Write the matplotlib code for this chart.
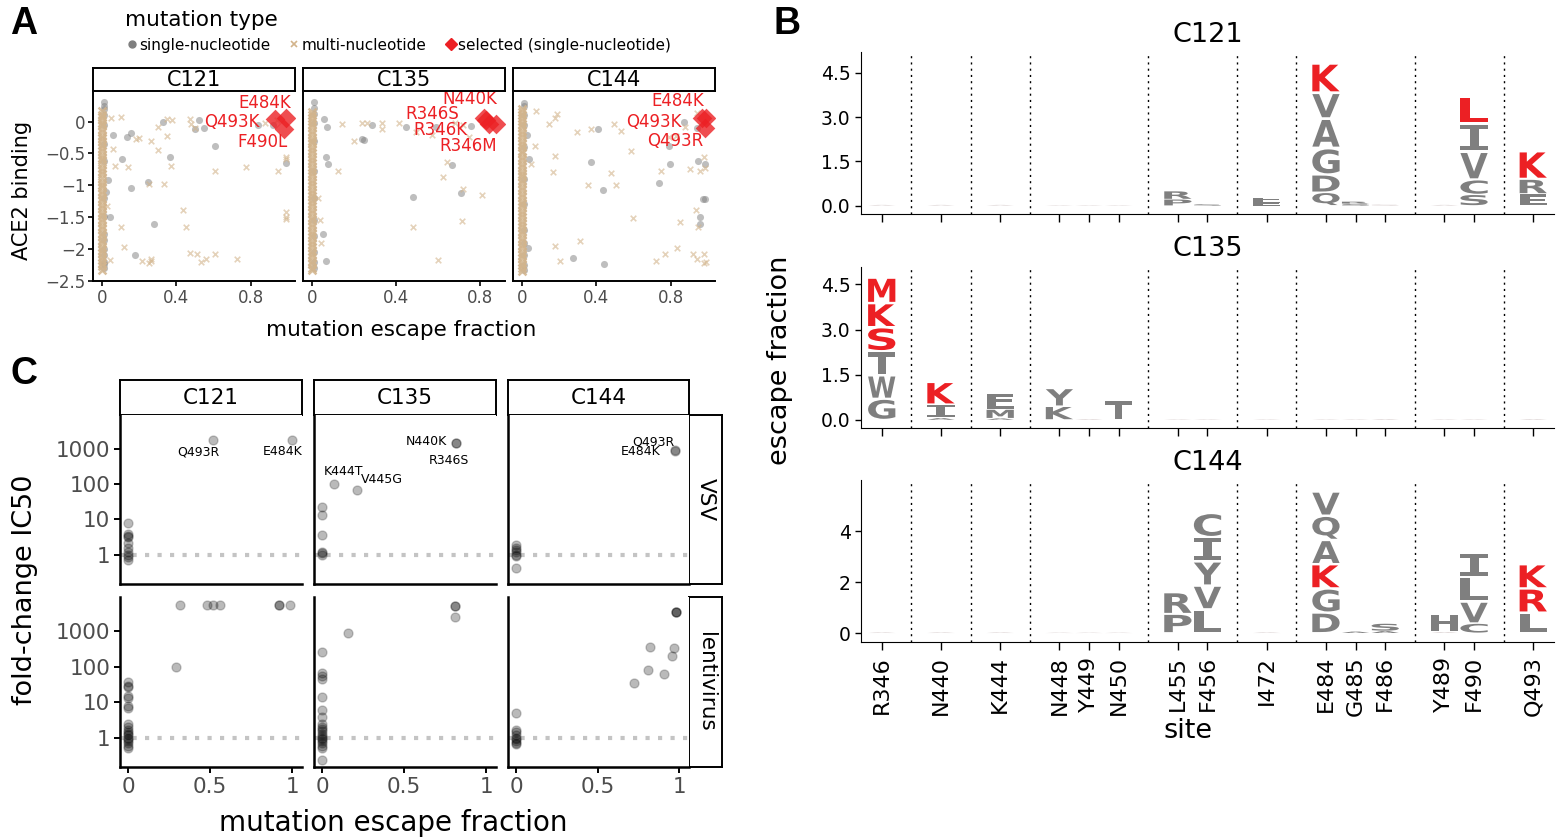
import numpy as np
import matplotlib
matplotlib.use('Agg')
import matplotlib.pyplot as plt
from matplotlib.textpath import TextPath
from matplotlib.patches import PathPatch
from matplotlib.font_manager import FontProperties
from matplotlib.transforms import Affine2D
from matplotlib.lines import Line2D

plt.rcParams['font.family'] = ['DejaVu Sans']

# ---------------------------
# Panel A data: ACE2 binding vs escape fraction
# ---------------------------
antibodies = ['C121', 'C135', 'C144']

# dense column of mutations with escape ~0
a121_col_mnt_y = [0.16, 0.11, 0.07, 0.03, -0.02, -0.06, -0.11, -0.17, -0.22, -0.26, -0.31, -0.37, -0.42,
                  -0.46, -0.52, -0.57, -0.61, -0.67, -0.73, -0.78, -0.82, -0.88, -0.94, -0.99, -1.03, -1.09,
                  -1.14, -1.2, -1.25, -1.31, -1.36, -1.41, -1.47, -1.52, -1.58, -1.63, -1.69, -1.74, -1.79,
                  -1.85, -1.9, -1.96, -2.01, -2.06, -2.12, -2.17, -2.22, -2.27, -2.32]
a121_col_snt_y = [0.3, 0.25, 0.2, 0.1, -0.05, -0.35, -0.62, -1.2, -1.48, -1.77, -1.86, -2.0, -2.1, -2.2, -2.24, -2.3]
a121_snt_x = [0.326, 0.522, 0.50, 0.549, 0.058, 0.136, 0.158, 0.61, 0.366, 0.105, 0.245, 0.158, 0.277, 0.178,
              0.042, 0.99, 0.84, 0.92, 0.023, 0.03]
a121_snt_y = [0.0, 0.03, -0.115, -0.10, -0.21, -0.24, -0.18, -0.38, -0.56, -0.59, -0.95, -1.04, -1.6, -2.09,
              -1.5, -0.65, -0.05, -0.06, -1.11, -0.92]
a121_mnt_x = [0.05, 0.1, 0.18, 0.2, 0.263, 0.3, 0.35, 0.375, 0.35, 0.475, 0.48, 0.058, 0.069, 0.137, 0.373,
              0.335, 0.3, 0.61, 0.775, 0.95, 0.99, 0.99, 0.435, 0.45, 0.1, 0.99, 0.99, 0.99, 0.118, 0.217,
              0.263, 0.263, 0.254, 0.475, 0.51, 0.535, 0.56, 0.61, 0.725, 0.04, 0.027, 0.94, 0.88, 0.5, 0.25]
a121_mnt_y = [0.05, 0.08, -0.27, -0.25, -0.3, -0.45, 0.04, 0.03, -0.23, 0.04, -0.03, -0.43, -0.7, -0.71, -0.7,
              -0.98, -0.08, -0.77, -0.71, -0.77, -0.55, -0.59, -1.38, -1.65, -1.65, -1.42, -1.49, -1.53, -1.97,
              -2.19, -2.16, -2.19, -2.21, -2.06, -2.08, -2.2, -2.16, -2.08, -2.16, -2.17, -1.33, 0.03, -0.02,
              -0.1, -0.98]
a121_sel_x = [0.99, 0.93, 0.98]
a121_sel_y = [0.05, 0.04, -0.12]
a121_sel_lab = ['E484K', 'Q493K', 'F490L']

a135_col_mnt_y = [0.15, 0.1, 0.05, 0.01, -0.04, -0.09, -0.14, -0.19, -0.25, -0.3, -0.34, -0.4, -0.45, -0.5,
                  -0.56, -0.6, -0.65, -0.71, -0.76, -0.8, -0.86, -0.91, -0.97, -1.01, -1.07, -1.12, -1.17,
                  -1.23, -1.28, -1.33, -1.39, -1.44, -1.49, -1.55, -1.6, -1.65, -1.71, -1.76, -1.81, -1.87,
                  -1.92, -1.97, -2.03, -2.08, -2.13, -2.19, -2.24, -2.29, -2.33]
a135_col_snt_y = [0.3, 0.22, 0.12, -0.02, -0.3, -0.78, -1.2, -1.55, -1.8, -2.05, -2.2, -2.3]
a135_snt_x = [0.056, 0.287, 0.446, 0.757, 0.072, 0.247, 0.24, 0.667, 0.074, 0.483, 0.711, 0.051, 0.067,
              0.064, 0.59]
a135_snt_y = [0.04, -0.05, -0.09, -0.07, -0.08, -0.29, -0.27, -0.68, -0.66, -1.18, -1.12, -1.76, -2.18,
              -0.55, -0.08]
a135_mnt_x = [0.24, 0.26, 0.335, 0.415, 0.494, 0.574, 0.335, 0.646, 0.144, 0.124, 0.627, 0.722, 0.809,
              0.483, 0.714, 0.601, 0.035, 0.718, 0.75, 0.68, 0.2, 0.04, 0.03]
a135_mnt_y = [-0.015, -0.015, -0.02, -0.02, -0.16, -0.21, -0.11, -0.63, -0.03, -0.77, -0.87, -1.06, -1.15,
              -1.66, -1.56, -2.17, -1.55, -0.05, -0.24, -0.02, -0.3, -1.9, -1.2]
a135_sel_x = [0.822, 0.83, 0.845, 0.877]
a135_sel_y = [0.06, 0.02, -0.03, -0.04]
a135_sel_lab = ['N440K', 'R346S', 'R346K', 'R346M']

a144_col_mnt_y = [0.2, 0.15, 0.11, 0.06, 0.01, -0.04, -0.09, -0.15, -0.2, -0.24, -0.3, -0.35, -0.4, -0.46,
                  -0.5, -0.55, -0.61, -0.66, -0.71, -0.77, -0.82, -0.86, -0.92, -0.97, -1.02, -1.08, -1.13,
                  -1.18, -1.24, -1.29, -1.34, -1.4, -1.45, -1.5, -1.56, -1.61, -1.66, -1.72, -1.77, -1.82,
                  -1.88, -1.93, -1.98, -2.04, -2.09, -2.14, -2.2, -2.25, -2.3, -2.34]
a144_col_snt_y = [0.29, 0.24, 0.1, -0.05, -0.4, -0.9, -1.3, -1.7, -1.9, -2.1, -2.25, -2.32]
a144_snt_x = [0.41, 0.875, 0.94, 0.79, 0.372, 0.796, 0.949, 0.983, 0.736, 0.437, 0.983, 0.975, 0.961, 0.961,
              0.275, 0.44, 0.027, 0.036, 0.03]
a144_snt_y = [-0.115, -0.01, -0.1, -0.38, -0.64, -0.67, -0.62, -0.66, -0.96, -1.08, -1.21, -1.21, -1.5, -1.6,
              -2.14, -2.24, -0.21, -0.59, -1.98]
a144_mnt_x = [0.077, 0.189, 0.175, 0.143, 0.293, 0.372, 0.494, 0.534, 0.584, 0.48, 0.507, 0.354, 0.175, 0.168,
              0.068, 0.045, 0.75, 0.903, 0.96, 0.988, 0.98, 0.6, 0.85, 0.938, 0.95, 0.314, 0.175, 0.206, 0.77,
              0.835, 0.72, 0.92, 0.943, 0.98, 0.98, 0.79, 0.83, 0.94, 0.88, 0.99]
a144_mnt_y = [0.17, 0.12, 0.05, -0.04, -0.17, -0.12, -0.03, -0.14, -0.46, -0.8, -1.0, -0.99, -0.54, -0.79,
              -0.38, -0.67, -0.78, -0.75, -0.78, -0.72, -0.55, -1.51, -1.58, -1.38, -1.66, -1.87, -1.95, -2.18,
              -2.07, -1.98, -2.18, -2.08, -2.16, -2.07, -2.21, -0.24, -0.23, 0.13, -0.08, -2.2]
a144_sel_x = [0.99, 0.967, 0.983]
a144_sel_y = [0.05, 0.05, -0.1]
a144_sel_lab = ['E484K', 'Q493K', 'Q493R']

# label anchor (right edge) positions in data units, as repelled in the original
a121_lab_xy = [(1.016, 0.29), (0.85, 0.0), (1.0, -0.32)]
a135_lab_xy = [(0.885, 0.36), (0.70, 0.12), (0.742, -0.13), (0.885, -0.39)]
a144_lab_xy = [(0.98, 0.32), (0.862, 0.0), (0.975, -0.3)]

# ---------------------------
# Panel B data: logo of escape fractions per site
# ---------------------------
site_groups = [['R346'], ['N440'], ['K444'], ['N448', 'Y449', 'N450'], ['L455', 'F456'], ['I472'],
               ['E484', 'G485', 'F486'], ['Y489', 'F490'], ['Q493']]

logo_C121 = {
    'R346': [('A', 0.03)], 'N440': [('A', 0.03)], 'K444': [('A', 0.03)], 'N448': [('A', 0.02)],
    'Y449': [('A', 0.02)], 'N450': [('A', 0.02)],
    'L455': [('P', 0.22), ('R', 0.28)], 'F456': [('S', 0.05)], 'I472': [('E', 0.13), ('F', 0.15)],
    'E484': [('Q', 0.45), ('D', 0.6), ('G', 0.9), ('A', 1.0), ('V', 0.87), ('K', 1.0)],
    'G485': [('S', 0.07), ('R', 0.07)], 'F486': [('S', 0.04)], 'Y489': [('A', 0.03)],
    'F490': [('S', 0.38), ('C', 0.5), ('V', 0.95), ('I', 0.95), ('L', 0.9)],
    'Q493': [('E', 0.4), ('R', 0.5), ('K', 0.95)],
}
logo_C135 = {
    'R346': [('G', 0.7), ('W', 0.78), ('T', 0.8), ('S', 0.8), ('K', 0.8), ('M', 0.85)],
    'N440': [('A', 0.06), ('I', 0.45), ('K', 0.75)],
    'K444': [('A', 0.05), ('M', 0.3), ('E', 0.55)],
    'N448': [('K', 0.45), ('Y', 0.6)], 'Y449': [('A', 0.03)], 'N450': [('T', 0.65)],
    'L455': [('A', 0.02)], 'F456': [('A', 0.02)], 'I472': [('A', 0.02)], 'E484': [('A', 0.02)],
    'G485': [('A', 0.02)], 'F486': [('A', 0.03)], 'Y489': [('A', 0.02)], 'F490': [('A', 0.02)],
    'Q493': [('A', 0.03)],
}
logo_C144 = {
    'R346': [('A', 0.03)], 'N440': [('A', 0.03)], 'K444': [('A', 0.03)], 'N448': [('A', 0.02)],
    'Y449': [('A', 0.02)], 'N450': [('A', 0.02)],
    'L455': [('P', 0.75), ('R', 0.85)],
    'F456': [('L', 0.93), ('V', 0.93), ('Y', 0.95), ('I', 0.95), ('C', 0.95)],
    'I472': [('A', 0.03)],
    'E484': [('D', 0.8), ('G', 0.95), ('K', 0.95), ('A', 0.95), ('Q', 0.95), ('V', 0.95)],
    'G485': [('A', 0.06)], 'F486': [('A', 0.08), ('S', 0.3)],
    'Y489': [('A', 0.04), ('H', 0.72)],
    'F490': [('C', 0.38), ('V', 0.85), ('L', 0.97), ('I', 0.95)],
    'Q493': [('L', 0.8), ('R', 0.95), ('K', 0.95)],
}
selected_muts = {'C121': ['E484K', 'F490L', 'Q493K'],
                 'C135': ['R346M', 'R346K', 'R346S', 'N440K'],
                 'C144': ['E484K', 'Q493K', 'Q493R']}

# ---------------------------
# Panel C data: fold-change IC50 vs escape fraction
# ---------------------------
c121_vsv_x = [0, 0, 0, 0, 0, 0, 0, 0, 0, 0, 0.52, 1.0]
c121_vsv_y = [8.2, 4.0, 3.5, 3.2, 2.2, 1.6, 1.2, 1.0, 0.85, 0.7, 1780, 1780]
c135_vsv_x = [0, 0, 0, 0, 0, 0, 0.07, 0.21, 0.816, 0.816]
c135_vsv_y = [23, 13, 3.6, 1.2, 1.1, 1.0, 100, 69, 1480, 1430]
c144_vsv_x = [0, 0, 0, 0, 0, 0, 0, 0.975, 0.975]
c144_vsv_y = [1.9, 1.6, 1.4, 1.2, 1.0, 0.9, 0.43, 870, 900]

c121_lenti_x = [0] * 19 + [0.29, 0.315, 0.48, 0.52, 0.56, 0.92, 0.92, 0.985]
c121_lenti_y = [37, 29, 26, 15, 13, 7.6, 6.9, 2.5, 2.0, 1.6, 1.4, 1.3, 1.2, 1.0, 0.9, 0.8, 0.7, 0.6, 0.5,
                100, 5200, 5200, 5200, 5200, 5200, 5200, 5200]
c135_lenti_x = [0] * 20 + [0.155, 0.81, 0.81, 0.81]
c135_lenti_y = [260, 67, 55, 44, 13.5, 5.9, 3.8, 2.5, 2.0, 1.8, 1.5, 1.3, 1.1, 1.0, 0.9, 0.8, 0.7, 0.6, 0.5,
                0.24, 890, 5100, 5000, 2450]
c144_lenti_x = [0] * 9 + [0.98, 0.98, 0.98, 0.72, 0.81, 0.82, 0.906, 0.957, 0.968]
c144_lenti_y = [5.1, 1.6, 1.4, 1.2, 1.0, 0.9, 0.8, 0.7, 0.65, 3400, 3400, 3350, 35, 80, 350, 62, 200, 340]

c_labels = {
    ('VSV', 'C121'): [('Q493R', 0.43, 830), ('E484K', 0.94, 830)],
    ('VSV', 'C135'): [('N440K', 0.634, 1590), ('R346S', 0.774, 480), ('K444T', 0.127, 228), ('V445G', 0.366, 132)],
    ('VSV', 'C144'): [('Q493R', 0.84, 1580), ('E484K', 0.765, 830)],
}

# ---------------------------
# Styles / layout
# ---------------------------
W, H = 1559, 840
RED = '#ec2024'
GRAY = '#7f7f7f'
TAN = '#d2b48c'
TICK_GRAY = '#4d4d4d'

fig = plt.figure(figsize=(W / 100, H / 100), dpi=100)


def box(x0, y0, x1, y1):
    return [x0 / W, 1 - y1 / H, (x1 - x0) / W, (y1 - y0) / H]


def ftext(x, y, s, **kw):
    fig.text(x / W, 1 - y / H, s, **kw)


def strip(x0, y0, x1, y1, label, size, rot=0):
    st = fig.add_axes(box(x0, y0, x1, y1))
    st.set_xticks([])
    st.set_yticks([])
    for sp in st.spines.values():
        sp.set_linewidth(1.4)
    st.text(0.5, 0.5, label, ha='center', va='center', rotation=rot, fontsize=size,
            transform=st.transAxes)
    return st


# ---------------------------
# Panel A
# ---------------------------
a_sets = {
    'C121': (a121_col_mnt_y, a121_col_snt_y, a121_snt_x, a121_snt_y, a121_mnt_x, a121_mnt_y,
             a121_sel_x, a121_sel_y, a121_sel_lab, a121_lab_xy),
    'C135': (a135_col_mnt_y, a135_col_snt_y, a135_snt_x, a135_snt_y, a135_mnt_x, a135_mnt_y,
             a135_sel_x, a135_sel_y, a135_sel_lab, a135_lab_xy),
    'C144': (a144_col_mnt_y, a144_col_snt_y, a144_snt_x, a144_snt_y, a144_mnt_x, a144_mnt_y,
             a144_sel_x, a144_sel_y, a144_sel_lab, a144_lab_xy),
}
A_cols = [(93, 295), (303, 505), (513, 715)]
for i, ab in enumerate(antibodies):
    col_m, col_s, sx, sy, mx, my, selx, sely, sellab, labxy = a_sets[ab]
    x0, x1 = A_cols[i]
    ax = fig.add_axes(box(x0, 91, x1, 281))
    strip(x0, 68, x1, 91, ab, 15)

    ax.scatter(np.full(len(col_s), 0.008), col_s, s=26, color=GRAY, alpha=0.5, lw=0)
    ax.scatter(sx, sy, s=26, color=GRAY, alpha=0.5, lw=0)
    ax.scatter(np.zeros(len(col_m)), col_m, s=32, marker='x', color=TAN, alpha=0.85, lw=1.8)
    ax.scatter(mx, my, s=16, marker='x', color=TAN, alpha=0.6, lw=1.2)
    ax.scatter(selx, sely, s=100, marker='D', color=RED, alpha=0.8, lw=0)
    for lab, (lx, ly) in zip(sellab, labxy):
        ax.text(lx, ly, lab, ha='right', va='center', color=RED, fontsize=12)

    allx = list(sx) + list(mx) + list(selx) + [0]
    lo, hi = min(allx), max(allx)
    ax.set_xlim(lo - 0.05 * (hi - lo), hi + 0.05 * (hi - lo))
    ax.set_ylim(-2.5, 0.48)
    ax.set_xticks([0, 0.4, 0.8])
    ax.set_xticklabels(['0', '0.4', '0.8'])
    ax.set_yticks([0, -0.5, -1, -1.5, -2, -2.5])
    ax.set_yticklabels(['0', '\u22120.5', '\u22121', '\u22121.5', '\u22122', '\u22122.5'])
    for side in ['top', 'right']:
        ax.spines[side].set_visible(False)
    for side in ['left', 'bottom']:
        ax.spines[side].set_linewidth(1.4)
    ax.tick_params(labelsize=12, colors=TICK_GRAY, length=3.5, width=1.2, pad=2)
    ax.tick_params(axis='both', color='black')
    if i > 0:
        ax.tick_params(axis='y', left=False, labelleft=False)

ftext(22, 190, 'ACE2 binding', rotation=90, ha='center', va='center', fontsize=15)
ftext(401, 330, 'mutation escape fraction', ha='center', va='center', fontsize=15.5)

handles = [Line2D([], [], ls='none', marker='o', color=GRAY, ms=5, label='single-nucleotide'),
           Line2D([], [], ls='none', marker='x', color=TAN, ms=4.5, mew=1.2, label='multi-nucleotide'),
           Line2D([], [], ls='none', marker='D', color=RED, ms=6, label='selected (single-nucleotide)')]
fig.legend(handles=handles, title='mutation type', loc='upper left', bbox_to_anchor=(125 / W, 1 - 10 / H),
           ncol=3, frameon=False, fontsize=11, title_fontsize=15.5, handletextpad=0.05, columnspacing=1.1,
           handlelength=0.9, alignment='left', borderpad=0, borderaxespad=0)

# ---------------------------
# Panel B: logo plots
# ---------------------------
letter_font = FontProperties(family='DejaVu Sans', weight='bold')
serif_i_font = FontProperties(family='DejaVu Sans Mono', weight='bold')


def draw_letter(ax, ch, x, y0, h, color, width=0.92, vpad=0.1):
    fp = serif_i_font if ch == 'I' else letter_font
    tp = TextPath((0, 0), ch, size=1, prop=fp)
    bb = tp.get_extents()
    hh = h * (1 - vpad)
    tr = (Affine2D().translate(-bb.x0, -bb.y0)
          .scale(width / bb.width, hh / bb.height)
          .translate(x - width / 2, y0 + h * vpad / 2))
    ax.add_patch(PathPatch(tr.transform_path(tp), fc=color, ec='none', lw=0))


site_pos = {}
boundaries = []
p = 0
for g in site_groups:
    for s in g:
        site_pos[s] = p
        p += 1
    boundaries.append(p)
    p += 1
boundaries = boundaries[:-1]
sites = [s for g in site_groups for s in g]

logos = {'C121': logo_C121, 'C135': logo_C135, 'C144': logo_C144}
B_rows = [(52, 214), (267, 428), (480, 642)]
B_ylims = [(-0.28, 5.2), (-0.27, 5.08), (-0.35, 6.0)]
B_title_y = [35, 249, 463]
for i, ab in enumerate(antibodies):
    y0, y1 = B_rows[i]
    ax = fig.add_axes(box(861, y0, 1554, y1))
    for s, stack in logos[ab].items():
        base = 0.0
        for ch, h in stack:
            mut = s + ch
            if mut in selected_muts[ab]:
                col = RED
            elif h < 0.05:
                col = '#d9cfcf'
            else:
                col = GRAY
            draw_letter(ax, ch, site_pos[s], base, h, col)
            base += h
    for b in boundaries:
        ax.axvline(b, color='black', ls=(0, (1.5, 3)), lw=1)
    ax.set_xlim(-0.7, 22.7)
    ax.set_ylim(*B_ylims[i])
    ax.set_xticks([site_pos[s] for s in sites])
    if i == 2:
        ax.set_xticklabels(sites, rotation=90, fontsize=16)
        ax.set_yticks([0, 2, 4])
        ax.set_yticklabels(['0', '2', '4'])
    else:
        ax.set_xticklabels([])
        ax.set_yticks([0, 1.5, 3.0, 4.5])
        ax.set_yticklabels(['0.0', '1.5', '3.0', '4.5'])
    for side in ['top', 'right']:
        ax.spines[side].set_visible(False)
    ax.tick_params(axis='y', labelsize=13.5, length=4, width=1)
    ax.tick_params(axis='x', length=6, width=1, pad=4)
    ftext(1208, B_title_y[i], ab, ha='center', va='center', fontsize=19.5)

ftext(780, 360, 'escape fraction', rotation=90, ha='center', va='center', fontsize=19.5)
ftext(1188, 731, 'site', ha='center', va='center', fontsize=19.5)

# ---------------------------
# Panel C
# ---------------------------
c_sets = {
    ('VSV', 'C121'): (c121_vsv_x, c121_vsv_y), ('VSV', 'C135'): (c135_vsv_x, c135_vsv_y),
    ('VSV', 'C144'): (c144_vsv_x, c144_vsv_y),
    ('lentivirus', 'C121'): (c121_lenti_x, c121_lenti_y), ('lentivirus', 'C135'): (c135_lenti_x, c135_lenti_y),
    ('lentivirus', 'C144'): (c144_lenti_x, c144_lenti_y),
}
C_cols = [(120, 302), (314, 496), (508, 689)]
C_rows = [(415, 584), (597, 767)]
viruses = ['VSV', 'lentivirus']
for r, virus in enumerate(viruses):
    ry0, ry1 = C_rows[r]
    strip(689, ry0, 722, ry1, virus, 15.5, rot=-90)
    for c, ab in enumerate(antibodies):
        cx0, cx1 = C_cols[c]
        if r == 0:
            strip(cx0, 380, cx1, 415, ab, 15.5)
        ax = fig.add_axes(box(cx0, ry0, cx1, ry1))
        x, y = c_sets[(virus, ab)]
        ax.axhline(1, color='#c4c4c4', lw=3, ls=(0, (1, 2)), dash_capstyle='butt', zorder=1)
        ax.scatter(x, y, s=42, facecolor=(0, 0, 0, 0.27), edgecolor=(0, 0, 0, 0.2), lw=1, zorder=2)
        for lab, lx, ly in c_labels.get((virus, ab), []):
            ax.text(lx, ly, lab, ha='center', va='center', fontsize=9)
        ax.set_yscale('log')
        ax.set_ylim(0.15, 9000)
        ax.set_xlim(-0.05, 1.06)
        ax.set_yticks([1, 10, 100, 1000])
        ax.set_yticklabels(['1', '10', '100', '1000'])
        ax.minorticks_off()
        ax.set_xticks([0, 0.5, 1])
        ax.set_xticklabels(['0', '0.5', '1'])
        for side in ['top', 'right']:
            ax.spines[side].set_visible(False)
        for side in ['left', 'bottom']:
            ax.spines[side].set_linewidth(1.8)
        ax.tick_params(labelsize=15.5, colors=TICK_GRAY, length=4, width=1.4, pad=3)
        ax.tick_params(axis='both', color='black')
        if c > 0:
            ax.tick_params(axis='y', left=False, labelleft=False)
        if r == 0:
            ax.tick_params(axis='x', bottom=False, labelbottom=False)

ftext(25, 590, 'fold-change IC50', rotation=90, ha='center', va='center', fontsize=19.5)
ftext(393, 823, 'mutation escape fraction', ha='center', va='center', fontsize=20)

# panel letters
for lab, x, y in [('A', 10, 24), ('B', 773, 24), ('C', 10, 374)]:
    ftext(x, y, lab, ha='left', va='center', fontsize=27, fontweight='bold', family='Liberation Sans')

fig.savefig('out.png', dpi=100)
